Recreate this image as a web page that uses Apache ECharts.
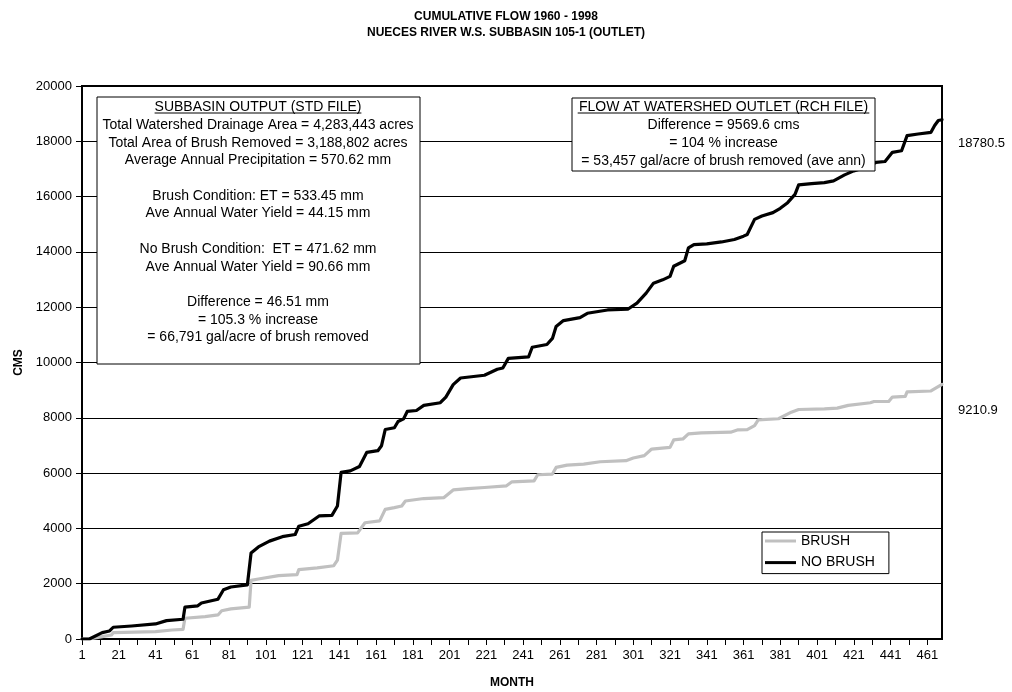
<!DOCTYPE html>
<html>
<head>
<meta charset="utf-8">
<script src="https://cdn.jsdelivr.net/npm/echarts@6/dist/echarts.min.js"></script>
<style>html,body{margin:0;padding:0;background:#fff;}#chart{width:1012px;height:692px;}</style>
</head>
<body>
<div id="chart"></div>
<script>
// Category labels (months 1..469)
const monthCategories = Array.from({length: 469}, (_, i) => String(i + 1));

// BRUSH series: key points [month, cumulative CMS]
const brushMonths = [1,5,12,17,18,41,50,56,57,68,75,77,82,92,93,97,108,118,119,129,138,140,142,151,155,163,166,171,175,177,187,198,203,211,220,232,235,247,249,257,259,265,274,283,297,301,307,311,321,323,328,331,338,354,358,363,367,369,380,387,391,405,412,418,430,432,440,442,449,450,463,469];
const brushValues = [0,0,85,145,230,265,325,350,750,810,870,1020,1090,1150,2120,2170,2290,2330,2510,2570,2650,2850,3820,3840,4205,4270,4690,4750,4810,4990,5080,5115,5390,5440,5480,5540,5685,5720,5940,5965,6205,6290,6325,6410,6450,6545,6630,6870,6930,7200,7235,7420,7455,7480,7565,7575,7720,7925,7965,8205,8300,8325,8350,8450,8545,8590,8590,8750,8775,8935,8970,9210.9];

// NO BRUSH series
const noBrushMonths = [1,5,12,16,18,28,41,47,56,57,64,66,75,78,82,91,93,97,103,110,117,119,124,130,137,140,142,147,152,156,162,164,166,171,173,176,178,183,187,196,199,203,207,220,227,230,233,244,246,254,257,259,263,272,276,287,298,303,308,312,317,321,323,329,331,334,341,349,356,361,363,367,371,377,381,385,389,391,398,405,410,416,421,427,433,438,442,447,450,456,463,465,467,469];
const noBrushValues = [0,0,230,290,425,470,545,665,715,1150,1200,1300,1440,1780,1880,1960,3110,3330,3540,3700,3780,4080,4170,4450,4470,4810,6025,6080,6240,6750,6810,6990,7575,7640,7865,7960,8230,8265,8450,8545,8750,9200,9440,9540,9755,9800,10150,10200,10550,10650,10870,11300,11515,11625,11780,11900,11925,12145,12510,12870,12990,13115,13480,13680,14145,14265,14290,14360,14450,14570,14630,15175,15300,15420,15575,15780,16080,16425,16470,16505,16570,16785,16930,17050,17235,17270,17600,17660,18205,18265,18325,18570,18750,18780.5];

const seriesNames = ['BRUSH', 'NO BRUSH'];
const yTicks = {min: 0, max: 20000, interval: 2000};

const titleLines = ['CUMULATIVE FLOW 1960 - 1998', 'NUECES RIVER W.S. SUBBASIN 105-1 (OUTLET)'];
const leftBoxLines = ['SUBBASIN OUTPUT (STD FILE)', 'Total Watershed Drainage Area = 4,283,443 acres', 'Total Area of Brush Removed = 3,188,802 acres', 'Average Annual Precipitation = 570.62 mm', '', 'Brush Condition: ET = 533.45 mm', 'Ave Annual Water Yield = 44.15 mm', '', 'No Brush Condition:  ET = 471.62 mm', 'Ave Annual Water Yield = 90.66 mm', '', 'Difference = 46.51 mm', '= 105.3 % increase', '= 66,791 gal/acre of brush removed'];
const rightBoxLines = ['FLOW AT WATERSHED OUTLET (RCH FILE)', 'Difference = 9569.6 cms', '= 104 % increase', '= 53,457 gal/acre of brush removed (ave ann)'];

const FONT = "'Liberation Sans', Arial, sans-serif";
const pairs = (ms, vs) => ms.map((m, i) => [String(m), vs[i]]);

const chart = echarts.init(document.getElementById('chart'), null, {renderer: 'canvas'});

const endLabel = (dy) => ({
  show: true,
  formatter: p => String(p.data[1]),
  color: '#000',
  fontFamily: FONT,
  fontSize: 13,
  distance: 16,
  offset: [0, dy]
});

chart.setOption({
  animation: false,
  backgroundColor: '#fff',
  textStyle: {fontFamily: FONT},
  title: {
    text: titleLines.join('\n'),
    left: 'center',
    top: 4,
    textStyle: {fontSize: 12, fontWeight: 'bold', color: '#000', lineHeight: 16, fontFamily: FONT}
  },
  grid: {left: 82, right: 70, top: 86, bottom: 53, outerBoundsMode: 'none', containLabel: false, show: true, borderColor: '#000', borderWidth: 2, backgroundColor: 'transparent'},
  legend: {
    orient: 'vertical',
    left: 762,
    top: 532,
    z: 50,
    backgroundColor: '#fff',
    borderColor: '#000',
    borderWidth: 1,
    padding: [1.5, 14, 3.5, 3],
    itemWidth: 31,
    itemHeight: 3,
    itemGap: 6.6,
    icon: 'rect',
    textStyle: {fontSize: 14, color: '#000', fontFamily: FONT, lineHeight: 15},
    data: seriesNames
  },
  xAxis: {
    type: 'category',
    data: monthCategories,
    boundaryGap: false,
    name: 'MONTH',
    nameLocation: 'middle',
    nameGap: 38,
    nameTextStyle: {fontSize: 12, fontWeight: 'bold', color: '#000', fontFamily: FONT},
    axisLine: {show: true, lineStyle: {color: '#000', width: 2}},
    axisTick: {show: true, interval: 9, length: 6, lineStyle: {color: '#000', width: 1}},
    axisLabel: {interval: 19, margin: 10, fontSize: 13, color: '#000', fontFamily: FONT},
    splitLine: {show: false}
  },
  yAxis: {
    type: 'value',
    min: yTicks.min,
    max: yTicks.max,
    interval: yTicks.interval,
    name: 'CMS',
    nameLocation: 'middle',
    nameGap: 56,
    nameTextStyle: {fontSize: 12, fontWeight: 'bold', color: '#000', fontFamily: FONT},
    axisLine: {show: true, lineStyle: {color: '#000', width: 2}},
    axisTick: {show: true, length: 6, lineStyle: {color: '#000', width: 1}},
    axisLabel: {margin: 10, fontSize: 13, color: '#000', fontFamily: FONT, formatter: v => String(v)},
    splitLine: {show: true, lineStyle: {color: '#000', width: 1}}
  },
  series: [
    {
      name: seriesNames[0],
      type: 'line',
      data: pairs(brushMonths, brushValues),
      symbol: 'none',
      lineStyle: {color: '#c0c0c0', width: 3.2, join: 'round', cap: 'round'},
      itemStyle: {color: '#c0c0c0'},
      endLabel: endLabel(26),
      z: 2
    },
    {
      name: seriesNames[1],
      type: 'line',
      data: pairs(noBrushMonths, noBrushValues),
      symbol: 'none',
      lineStyle: {color: '#000', width: 3.2, join: 'round', cap: 'round'},
      itemStyle: {color: '#000'},
      endLabel: endLabel(24),
      z: 3
    }
  ],
  graphic: [
    {type: 'rect', z: 100, shape: {x: 97, y: 97, width: 323, height: 267}, style: {fill: '#fff', stroke: '#000', lineWidth: 1}},
    {type: 'text', z: 101, x: 258, y: 98.5, style: {text: leftBoxLines.join('\n'), font: '14px ' + FONT, fill: '#000', align: 'center', verticalAlign: 'top', lineHeight: 17.7}},
    {type: 'line', z: 101, shape: {x1: 154.6, y1: 113, x2: 361.4, y2: 113}, style: {stroke: '#000', lineWidth: 1}},
    {type: 'rect', z: 100, shape: {x: 572, y: 98, width: 303, height: 73}, style: {fill: '#fff', stroke: '#000', lineWidth: 1}},
    {type: 'text', z: 101, x: 723.5, y: 97.5, style: {text: rightBoxLines.join('\n'), font: '14px ' + FONT, fill: '#000', align: 'center', verticalAlign: 'top', lineHeight: 18.3}},
    {type: 'line', z: 101, shape: {x1: 577.7, y1: 113, x2: 869.3, y2: 113}, style: {stroke: '#000', lineWidth: 1}}
  ]
});
</script>
</body>
</html>
